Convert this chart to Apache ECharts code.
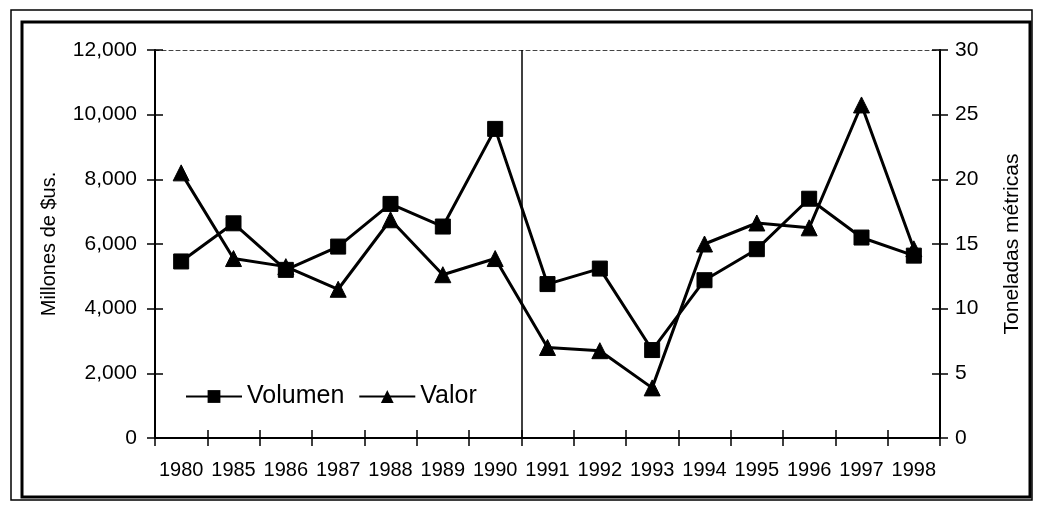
<!DOCTYPE html>
<html>
<head>
<meta charset="utf-8">
<script src="https://cdn.jsdelivr.net/npm/echarts@6/dist/echarts.min.js"></script>
<style>
  html, body { margin: 0; padding: 0; background: #fff; }
  #chart { width: 1037px; height: 506px; }
</style>
</head>
<body>
<div id="chart"></div>
<script>
const years = ['1980', '1985', '1986', '1987', '1988', '1989', '1990', '1991', '1992', '1993', '1994', '1995', '1996', '1997', '1998'];
// toneladas métricas (eje derecho)
const volumen = [13.65, 16.6, 13.0, 14.8, 18.1, 16.35, 23.9, 11.9, 13.1, 6.8, 12.2, 14.6, 18.5, 15.5, 14.1];
// millones de $us (eje izquierdo)
const valor = [8200, 5550, 5300, 4600, 6750, 5050, 5550, 2800, 2700, 1550, 6000, 6650, 6500, 10300, 5850];
const leftTicks = { min: 0, max: 12000, interval: 2000 };
const rightTicks = { min: 0, max: 30, interval: 5 };
// separador entre 1990 y 1991 (número de categorías antes de la línea)
const separatorAt = 7;

const font = 'Liberation Sans, Arial, sans-serif';
const black = '#000';

const chart = echarts.init(document.getElementById('chart'));

const tickStyle = { color: black, width: 1.5 };

chart.setOption({
  backgroundColor: '#fff',
  animation: false,
  textStyle: { fontFamily: font, color: black },
  graphic: [
    { type: 'rect', shape: { x: 11, y: 10, width: 1021, height: 490 }, style: { fill: 'none', stroke: black, lineWidth: 1.5 } },
    { type: 'rect', shape: { x: 22, y: 22, width: 1008, height: 475 }, style: { fill: 'none', stroke: black, lineWidth: 3 } }
  ],
  grid: { left: 155, right: 97, top: 50, bottom: 68 },
  legend: {
    data: ['Volumen', 'Valor'],
    left: 180,
    top: 379,
    itemWidth: 56,
    itemHeight: 16,
    itemGap: 14,
    textStyle: { fontFamily: font, fontSize: 25, color: black }
  },
  xAxis: [
    {
      type: 'category',
      data: years,
      position: 'bottom',
      boundaryGap: true,
      axisLine: { onZero: false, lineStyle: { color: black, width: 2 } },
      axisTick: { show: true, length: 8, lineStyle: tickStyle },
      axisLabel: { color: black, fontSize: 20, margin: 22, interval: 0, fontFamily: font },
      splitLine: { show: false }
    },
    {
      type: 'category',
      data: years,
      position: 'bottom',
      axisLine: { show: false, onZero: false },
      axisTick: { show: true, inside: true, length: 8, lineStyle: tickStyle },
      axisLabel: { show: false },
      splitLine: { show: false }
    },
    {
      type: 'category',
      data: years,
      position: 'top',
      axisLine: { onZero: false, lineStyle: { color: '#444', width: 1, type: [4, 3] } },
      axisTick: { show: false },
      axisLabel: { show: false },
      splitLine: { show: false }
    },
    { type: 'value', min: 0, max: years.length, show: false, axisLine: { onZero: false } }
  ],
  yAxis: [
    {
      type: 'value',
      position: 'left',
      min: leftTicks.min, max: leftTicks.max, interval: leftTicks.interval,
      name: 'Millones de $us.',
      nameLocation: 'middle',
      nameRotate: 90,
      nameGap: 96,
      nameTextStyle: { fontSize: 20, color: black, fontFamily: font },
      axisLine: { show: true, onZero: false, lineStyle: { color: black, width: 2 } },
      axisTick: { show: true, length: 8, lineStyle: tickStyle },
      axisLabel: { color: black, fontSize: 21, margin: 18, fontFamily: font,
        formatter: v => v.toLocaleString('en-US') },
      splitLine: { show: false }
    },
    {
      type: 'value',
      position: 'right',
      min: rightTicks.min, max: rightTicks.max, interval: rightTicks.interval,
      name: 'Toneladas métricas',
      nameLocation: 'middle',
      nameRotate: 90,
      nameGap: 62,
      nameTextStyle: { fontSize: 21, color: black, fontFamily: font },
      axisLine: { show: true, onZero: false, lineStyle: { color: black, width: 2 } },
      axisTick: { show: true, length: 8, lineStyle: tickStyle },
      axisLabel: { color: black, fontSize: 21, margin: 15, fontFamily: font },
      splitLine: { show: false }
    },
    {
      type: 'value',
      position: 'left',
      min: leftTicks.min, max: leftTicks.max, interval: leftTicks.interval,
      axisLine: { show: false, onZero: false },
      axisTick: { show: true, inside: true, length: 8, lineStyle: tickStyle },
      axisLabel: { show: false },
      splitLine: { show: false }
    },
    {
      type: 'value',
      position: 'right',
      min: rightTicks.min, max: rightTicks.max, interval: rightTicks.interval,
      axisLine: { show: false, onZero: false },
      axisTick: { show: true, inside: true, length: 8, lineStyle: tickStyle },
      axisLabel: { show: false },
      splitLine: { show: false }
    }
  ],
  series: [
    {
      name: 'Volumen',
      type: 'line',
      xAxisIndex: 0,
      yAxisIndex: 1,
      data: volumen,
      symbol: 'rect',
      symbolSize: 15,
      lineStyle: { color: black, width: 3 },
      itemStyle: { color: black, borderColor: black },
      z: 3
    },
    {
      name: 'Valor',
      type: 'line',
      xAxisIndex: 0,
      yAxisIndex: 0,
      data: valor,
      symbol: 'triangle',
      symbolSize: 16,
      lineStyle: { color: black, width: 3 },
      itemStyle: { color: black, borderColor: black },
      z: 3
    },
    {
      name: 'separador',
      type: 'line',
      xAxisIndex: 3,
      yAxisIndex: 0,
      data: [],
      markLine: {
        silent: true,
        symbol: 'none',
        label: { show: false },
        lineStyle: { color: black, width: 1.5, type: 'solid' },
        data: [{ xAxis: separatorAt }]
      }
    }
  ]
});
</script>
</body>
</html>
